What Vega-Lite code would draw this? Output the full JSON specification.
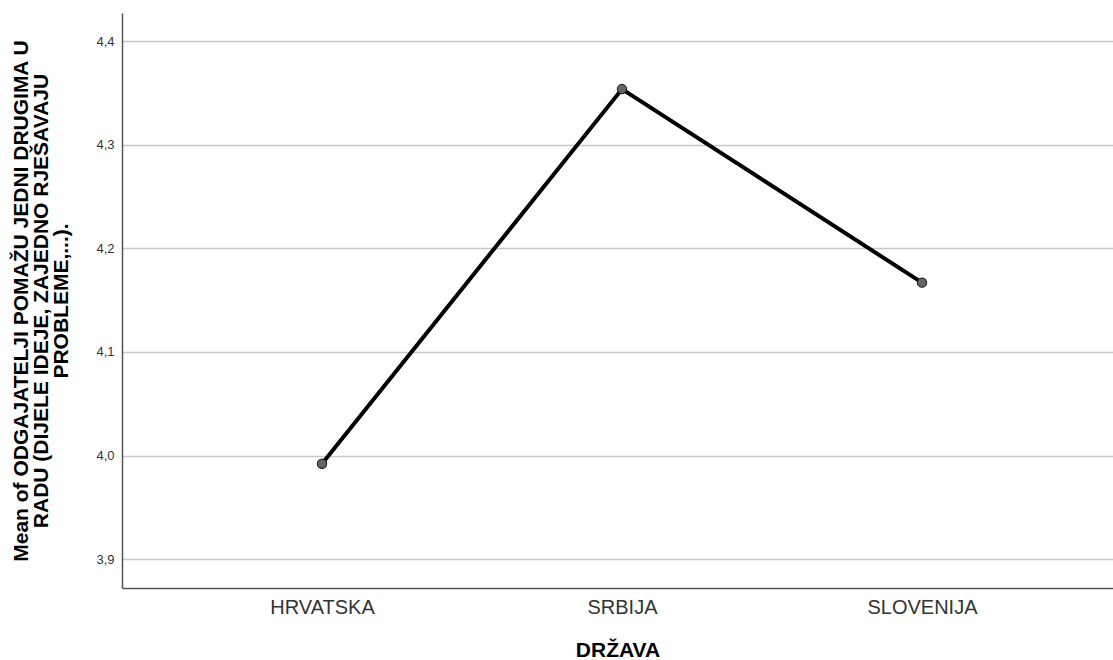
{
  "$schema": "https://vega.github.io/schema/vega-lite/v6.json",
  "autosize": "none",
  "width": 991,
  "height": 575,
  "padding": {"left": 122, "top": 13, "right": 0, "bottom": 72},
  "background": "white",
  "config": {
    "view": {"stroke": null},
    "font": "Liberation Sans"
  },
  "data": {
    "values": [
      {"drzava": "HRVATSKA", "mean": 3.992},
      {"drzava": "SRBIJA", "mean": 4.354},
      {"drzava": "SLOVENIJA", "mean": 4.167}
    ]
  },
  "encoding": {
    "x": {
      "field": "drzava",
      "type": "nominal",
      "sort": null,
      "scale": {"type": "point", "padding": 0.6517, "align": 0.5115},
      "axis": {
        "title": "DRŽAVA",
        "titleFont": "Liberation Sans",
        "titleFontSize": 21,
        "titleFontWeight": "bold",
        "titleColor": "#000000",
        "titlePadding": 22,
        "labelAngle": 0,
        "labelFont": "Liberation Sans",
        "labelFontSize": 20,
        "labelColor": "#333333",
        "labelPadding": 9,
        "ticks": false,
        "grid": false,
        "domainColor": "#555555",
        "domainWidth": 1.5
      }
    },
    "y": {
      "field": "mean",
      "type": "quantitative",
      "scale": {"domain": [3.872, 4.4275], "nice": false, "zero": false},
      "axis": {
        "title": ["Mean of ODGAJATELJI POMAŽU JEDNI DRUGIMA U", "RADU (DIJELE IDEJE, ZAJEDNO RJEŠAVAJU", "PROBLEME,...)."],
        "titleFont": "Liberation Sans",
        "titleFontSize": 21,
        "titleFontWeight": "bold",
        "titleColor": "#000000",
        "titleLineHeight": 20,
        "titlePadding": 24,
        "values": [3.9, 4.0, 4.1, 4.2, 4.3, 4.4],
        "labelExpr": "replace(format(datum.value, '.1f'), '.', ',')",
        "labelFont": "Liberation Sans",
        "labelFontSize": 13,
        "labelColor": "#333333",
        "labelPadding": 8,
        "ticks": false,
        "grid": true,
        "gridColor": "#c8c8c8",
        "gridWidth": 1.5,
        "domainColor": "#555555",
        "domainWidth": 1.5
      }
    }
  },
  "layer": [
    {
      "mark": {"type": "line", "color": "#000000", "strokeWidth": 4}
    },
    {
      "mark": {"type": "point", "filled": true, "fill": "#666666", "stroke": "#222222", "strokeWidth": 1.2, "size": 85, "opacity": 1}
    }
  ]
}
